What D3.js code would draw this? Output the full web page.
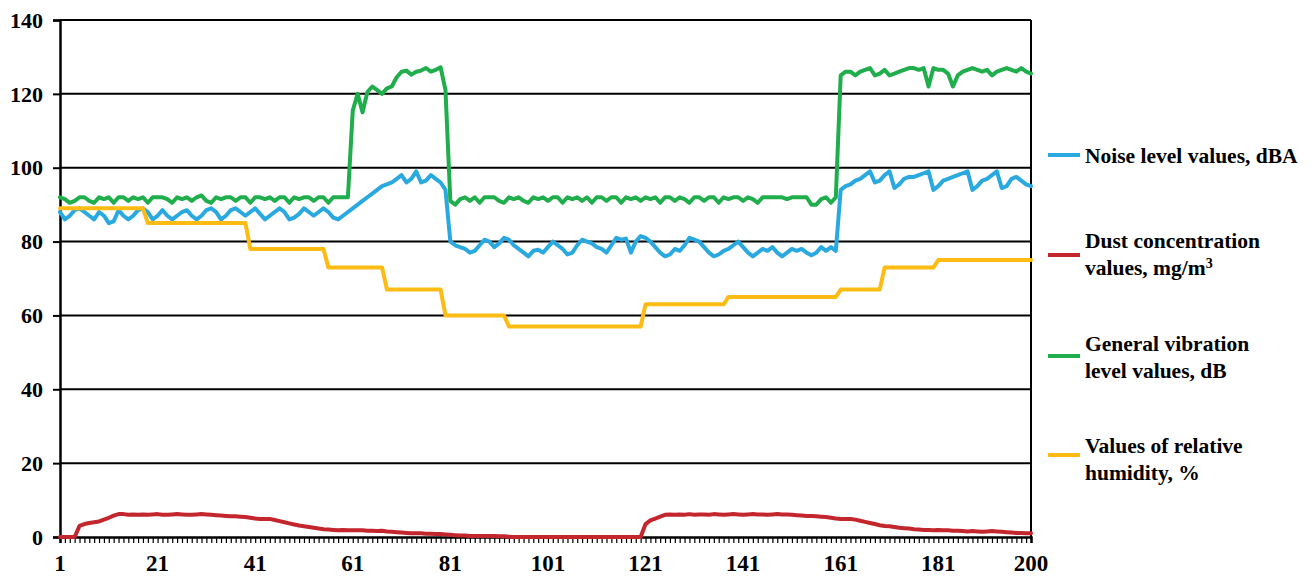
<!DOCTYPE html>
<html>
<head>
<meta charset="utf-8">
<script src="https://cdn.jsdelivr.net/npm/d3@7"></script>
<style>
  html, body { margin: 0; padding: 0; background: #fff; }
  svg { display: block; }
</style>
</head>
<body>
<svg id="chart" width="1316" height="577"></svg>
<script>
// Measurement index 1..200
const indices = d3.range(1, 201);
const xTickLabels = [1, 21, 41, 61, 81, 101, 121, 141, 161, 181, 200];
const yTicks = [0, 20, 40, 60, 80, 100, 120, 140];

// Noise level values, dBA
const noise = [
  88, 86, 87, 88.5, 89, 88, 87, 86, 88, 87,
  85, 85.5, 88.5, 87, 86, 87, 88.5, 89, 88, 86,
  87, 88.5, 87, 86, 87, 88, 88.5, 87, 86, 87,
  88.5, 89, 88, 86, 87, 88.5, 89, 88, 87, 88,
  89, 87.5, 86, 87, 88, 89, 88, 86, 86.5, 87.5,
  89, 88, 87, 88, 89, 88, 86.5, 86, 87, 88,
  89, 90, 91, 92, 93, 94, 95, 95.5, 96, 97,
  98, 96, 97, 99, 96, 96.5, 98, 97, 96, 94,
  80, 79, 78.5, 78, 77, 77.5, 79, 80.5, 80, 78.5,
  79.5, 81, 80.5, 79, 78, 77, 76, 77.5, 77.8, 77,
  78.5, 80, 79, 78, 76.5, 77, 79, 80.5, 80, 79.5,
  78.5, 78, 77, 79, 81, 80.5, 80.8, 77, 80, 81.5,
  81, 80, 78.5, 77, 76, 76.5, 78, 77.5, 79, 81,
  80.5, 80, 78.5, 77, 76, 76.5, 77.5, 78, 79, 80,
  78.5, 77, 76, 77, 78, 77.5, 78.5, 77, 76, 77,
  78, 77.5, 78, 77, 76.3, 77, 78.5, 77.5, 78.5, 77.5,
  94, 95, 95.5, 96.5, 97, 98, 99, 96, 96.5, 98,
  99, 94.5, 95.5, 97, 97.5, 97.5, 98, 98.5, 99, 94,
  95, 96.5, 97, 97.5, 98, 98.5, 99, 94, 95, 96.5,
  97, 98, 99, 94.5, 95, 97, 97.5, 96.5, 95.5, 95
];

// Dust concentration values, mg/m3
const dust = [
  0, 0, 0, 0, 3, 3.5, 3.8, 4, 4.2, 4.7,
  5.2, 5.8, 6.2, 6.2, 6, 6.1, 6, 6.1, 6, 6.1,
  6.2, 6, 6, 6.1, 6.2, 6.1, 6, 6, 6.1, 6.2,
  6.1, 6, 5.9, 5.8, 5.7, 5.6, 5.6, 5.5, 5.4, 5.2,
  5, 4.9, 4.9, 4.9, 4.6, 4.3, 4, 3.7, 3.4, 3.1,
  2.9, 2.7, 2.5, 2.3, 2.1, 2, 1.9, 1.8, 1.9, 1.8,
  1.8, 1.8, 1.8, 1.7, 1.7, 1.6, 1.7, 1.5, 1.4, 1.3,
  1.2, 1.1, 1, 1, 1, 0.9, 0.9, 0.8, 0.8, 0.7,
  0.6, 0.5, 0.4, 0.4, 0.3, 0.3, 0.3, 0.3, 0.3, 0.3,
  0.2, 0.2, 0.1, 0, 0, 0, 0, 0, 0, 0,
  0, 0, 0, 0, 0, 0, 0, 0, 0, 0,
  0, 0, 0, 0, 0, 0, 0, 0, 0, 0,
  3.5, 4.5, 5, 5.5, 6, 6.1, 6, 6.1, 6, 6.2,
  6, 6.1, 6.1, 6, 6.2, 6.1, 6, 6.1, 6.2, 6.1,
  6, 6.1, 6.2, 6.1, 6.1, 6, 6.1, 6.2, 6.1, 6.1,
  6, 5.9, 5.8, 5.7, 5.7, 5.6, 5.5, 5.4, 5.2, 5,
  4.9, 4.9, 4.9, 4.7, 4.4, 4.1, 3.8, 3.5, 3.2, 3,
  2.9, 2.7, 2.5, 2.4, 2.3, 2.1, 2, 1.9, 1.9, 1.8,
  1.9, 1.8, 1.8, 1.7, 1.7, 1.6, 1.5, 1.6, 1.5, 1.4,
  1.5, 1.6, 1.5, 1.4, 1.3, 1.2, 1.1, 1.1, 1, 1
];

// General vibration level values, dB
const vibration = [
  92, 91.5, 90.5, 91, 92, 92, 91, 90.5, 92, 91.5,
  92, 90.5, 92, 92, 91, 92, 91.5, 92, 90.5, 92,
  92, 92, 91.5, 90.5, 92, 91.5, 92, 91, 92, 92.5,
  91, 90.5, 92, 91.5, 92, 92, 91, 92, 92, 90.5,
  92, 92, 91.5, 92, 91, 92, 92, 90.5, 92, 91.5,
  92, 92, 91, 92, 92, 90.5, 92, 92, 92, 92,
  115.5, 120, 115, 120.5, 122, 121, 120, 121.5, 122, 124.5,
  126, 126.3, 125.2, 126, 126.3, 127, 126, 126.5, 127.2, 121,
  91, 90, 91.5, 92, 91, 92, 90.5, 92, 92, 92,
  91, 90.5, 92, 91.5, 92, 91, 90.5, 92, 91.5, 92,
  91, 92, 92, 90.5, 92, 91.5, 92, 91, 92, 90.5,
  92, 92, 91, 92, 92, 90.5, 92, 91.5, 92, 91,
  92, 91.5, 92, 90.5, 92, 92, 91, 92, 91.5, 90.5,
  92, 92, 91, 92, 92, 90.5, 92, 91.5, 92, 92,
  91, 92, 91.5, 90.5, 92, 92, 92, 92, 92, 91.5,
  92, 92, 92, 92, 90, 90, 91.5, 92, 90.5, 92,
  125, 126, 126, 125, 126, 126.5, 127, 125, 125.5, 126.5,
  125, 125.5, 126, 126.5, 127, 127, 126.5, 127, 122, 127,
  126.5, 126.5, 125.5, 122, 125, 126, 126.5, 127, 126.5, 126,
  126.5, 125, 126, 126.5, 127, 126.5, 126, 127, 126, 125.5
];

// Values of relative humidity, %
const humidity = [
  89, 89, 89, 89, 89, 89, 89, 89, 89, 89,
  89, 89, 89, 89, 89, 89, 89, 89, 85, 85,
  85, 85, 85, 85, 85, 85, 85, 85, 85, 85,
  85, 85, 85, 85, 85, 85, 85, 85, 85, 78,
  78, 78, 78, 78, 78, 78, 78, 78, 78, 78,
  78, 78, 78, 78, 78, 73, 73, 73, 73, 73,
  73, 73, 73, 73, 73, 73, 73, 67, 67, 67,
  67, 67, 67, 67, 67, 67, 67, 67, 67, 60,
  60, 60, 60, 60, 60, 60, 60, 60, 60, 60,
  60, 60, 57, 57, 57, 57, 57, 57, 57, 57,
  57, 57, 57, 57, 57, 57, 57, 57, 57, 57,
  57, 57, 57, 57, 57, 57, 57, 57, 57, 57,
  63, 63, 63, 63, 63, 63, 63, 63, 63, 63,
  63, 63, 63, 63, 63, 63, 63, 65, 65, 65,
  65, 65, 65, 65, 65, 65, 65, 65, 65, 65,
  65, 65, 65, 65, 65, 65, 65, 65, 65, 65,
  67, 67, 67, 67, 67, 67, 67, 67, 67, 73,
  73, 73, 73, 73, 73, 73, 73, 73, 73, 73,
  75, 75, 75, 75, 75, 75, 75, 75, 75, 75,
  75, 75, 75, 75, 75, 75, 75, 75, 75, 75
];

const seriesColors = ["#2aa9e0", "#c4262e", "#1fae4b", "#fdbb13"];

const svg = d3.select("#chart");
const x = d3.scaleLinear().domain([1, 200]).range([60, 1031]);
const y = d3.scaleLinear().domain([0, 140]).range([537, 20]);

// horizontal gridlines
svg.append("g")
  .selectAll("line")
  .data(yTicks.filter(d => d > 0))
  .join("line")
  .attr("x1", x(1)).attr("x2", x(200))
  .attr("y1", d => y(d)).attr("y2", d => y(d))
  .attr("stroke", "#000").attr("stroke-width", 2);

// right frame line
svg.append("line")
  .attr("x1", x(200)).attr("x2", x(200))
  .attr("y1", y(140)).attr("y2", y(0))
  .attr("stroke", "#000").attr("stroke-width", 2);

// y axis line and ticks
const yAxis = svg.append("g")
  .attr("transform", `translate(${x(1)},0)`)
  .call(d3.axisLeft(y).tickValues(yTicks).tickSize(7).tickFormat(""));
yAxis.select(".domain").attr("stroke", "#000").attr("stroke-width", 2.5);
yAxis.selectAll(".tick line").attr("stroke", "#000").attr("stroke-width", 2);

// x axis line with a tick at every measurement
const xMinor = svg.append("g")
  .attr("transform", `translate(0,${y(0)})`)
  .call(d3.axisBottom(x).tickValues(indices).tickSize(6).tickFormat(""));
xMinor.select(".domain").attr("stroke", "#000").attr("stroke-width", 2.5);
xMinor.selectAll(".tick line").attr("stroke", "#000").attr("stroke-width", 1.2);

// y tick labels
svg.selectAll("text.ylab")
  .data(yTicks)
  .join("text")
  .attr("class", "ylab")
  .attr("x", x(1) - 17)
  .attr("y", d => y(d))
  .attr("dy", "0.35em")
  .attr("text-anchor", "end")
  .style("font-family", "Liberation Serif")
  .style("font-weight", "bold")
  .style("font-size", "22px")
  .text(d => d);

// x tick labels
svg.selectAll("text.xlab")
  .data(xTickLabels)
  .join("text")
  .attr("class", "xlab")
  .attr("x", d => x(d))
  .attr("y", y(0) + 34)
  .attr("text-anchor", "middle")
  .style("font-family", "Liberation Serif")
  .style("font-weight", "bold")
  .style("font-size", "23px")
  .text(d => d);

// series lines
const lineGen = d3.line()
  .x((d, i) => x(indices[i]))
  .y(d => y(d));

[noise, dust, vibration, humidity].forEach((vals, k) => {
  svg.append("path")
    .datum(vals)
    .attr("d", lineGen)
    .attr("fill", "none")
    .attr("stroke", seriesColors[k])
    .attr("stroke-width", 4)
    .attr("stroke-linejoin", "round")
    .attr("stroke-linecap", "round");
});

// legend
const legendSwatches = [155, 255, 356, 455];
const legendLines = [
  { text: "Noise level values, dBA", y: 155 },
  { text: "Dust concentration", y: 240 },
  { text: "values, mg/m", y: 267, sup: "3" },
  { text: "General vibration", y: 343 },
  { text: "level values, dB", y: 370 },
  { text: "Values of relative", y: 445 },
  { text: "humidity, %", y: 472 }
];

svg.selectAll("line.swatch")
  .data(legendSwatches)
  .join("line")
  .attr("class", "swatch")
  .attr("x1", 1048).attr("x2", 1080)
  .attr("y1", d => d).attr("y2", d => d)
  .attr("stroke", (d, i) => seriesColors[i])
  .attr("stroke-width", 4);

const legendText = svg.selectAll("text.leg")
  .data(legendLines)
  .join("text")
  .attr("class", "leg")
  .attr("x", 1085)
  .attr("y", d => d.y)
  .attr("dy", "0.35em")
  .style("font-family", "Liberation Serif")
  .style("font-weight", "bold")
  .style("font-size", "21.5px")
  .text(d => d.text);

legendText.filter(d => d.sup)
  .append("tspan")
  .attr("dy", "-0.45em")
  .style("font-size", "14px")
  .text(d => d.sup);
</script>
</body>
</html>
